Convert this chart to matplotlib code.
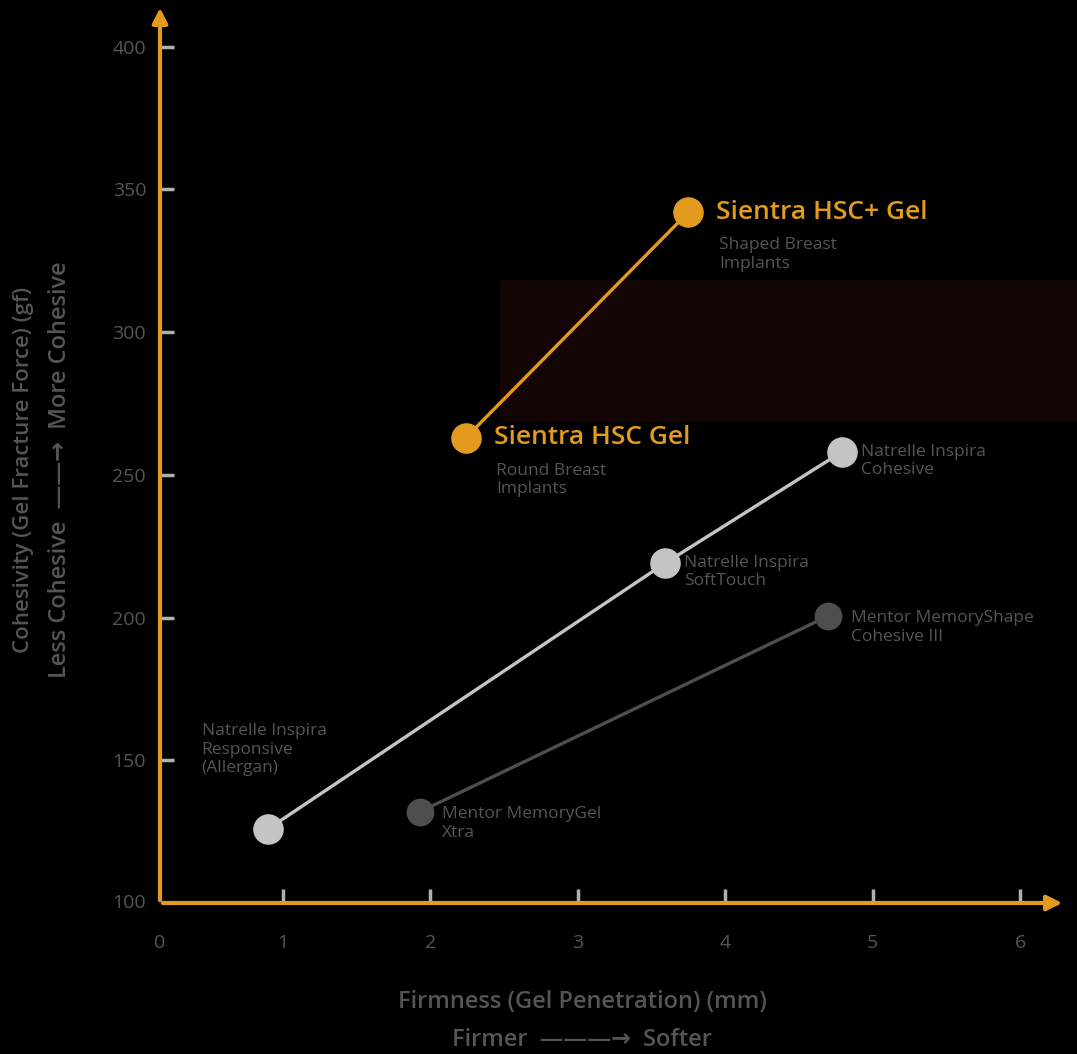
import matplotlib
matplotlib.use("Agg")
import matplotlib.pyplot as plt
from matplotlib.patches import Rectangle

plt.rcParams['font.family'] = ['Open Sans', 'DejaVu Sans']

# data
x_ticks = [1, 2, 3, 4, 5, 6]
y_ticks = [100, 150, 200, 250, 300, 350, 400]

sientra_names = ['Sientra HSC Gel', 'Sientra HSC+ Gel']
sientra_notes = ['Round Breast\nImplants', 'Shaped Breast\nImplants']
sientra_x = [2.24, 3.75]
sientra_y = [263, 342]

light_names = ['Natrelle Inspira\nResponsive\n(Allergan)', 'Natrelle Inspira\nSoftTouch', 'Natrelle Inspira\nCohesive']
light_x = [0.90, 3.59, 4.79]
light_y = [126, 219, 258]

dark_names = ['Mentor MemoryGel\nXtra', 'Mentor MemoryShape\nCohesive III']
dark_x = [1.93, 4.70]
dark_y = [132, 200.6]

orange = '#E39B1F'
light = '#C4C4C4'
dark = '#4E4E4E'
txt = '#555555'
bg = 'black'

fig = plt.figure(figsize=(10.77, 10.54), dpi=100, facecolor=bg)

ax = fig.add_axes([160 / 1077, 151 / 1054, 905 / 1077, 898 / 1054])
ax.set_facecolor('none')
ax.set_xlim(0.165, 6.305)
ax.set_ylim(100, 414.6)

# dark reddish panel behind the upper right of the chart
ax.add_patch(Rectangle((500 / 1077, 1 - 422 / 1054), 577 / 1077, 142 / 1054,
                       transform=fig.transFigure, facecolor='#140505', edgecolor='none',
                       zorder=0, clip_on=False))

for s in ax.spines.values():
    s.set_visible(False)

# axes with arrowheads
ax.annotate('', xy=(1.0, 0), xytext=(0, 0), xycoords='axes fraction',
            arrowprops=dict(arrowstyle='-|>,head_length=0.9,head_width=0.45', color=orange, lw=3))
ax.annotate('', xy=(0, 1.0), xytext=(0, 0), xycoords='axes fraction',
            arrowprops=dict(arrowstyle='-|>,head_length=0.9,head_width=0.45', color=orange, lw=3))

ax.set_xticks(x_ticks)
ax.set_yticks(y_ticks[1:])
ax.tick_params(axis='both', direction='in', length=10, width=2.5, color='#B0B0B0',
               labelcolor=txt, labelsize=14)
ax.tick_params(axis='x', pad=22)
ax.tick_params(axis='y', pad=10)
ax.annotate('0', (0, 0), xycoords='axes fraction', xytext=(0, -22), textcoords='offset points',
            ha='center', va='top', color=txt, fontsize=14)
ax.annotate(str(y_ticks[0]), (0, 0), xycoords='axes fraction', xytext=(-10, 0), textcoords='offset points',
            ha='right', va='center', color=txt, fontsize=14)

# series
ax.plot(light_x, light_y, color=light, lw=2.4, marker='o', ms=21, zorder=3)
ax.plot(dark_x, dark_y, color=dark, lw=2.4, marker='o', ms=19, zorder=3)
ax.plot(sientra_x, sientra_y, color=orange, lw=2.4, marker='o', ms=21, zorder=4)

# point labels
for name, note, x, y in zip(sientra_names, sientra_notes, sientra_x, sientra_y):
    ax.annotate(name, (x, y), xytext=(20, 0), textcoords='offset points', ha='left', va='center',
                color=orange, fontsize=19, fontweight='semibold')
    ax.annotate(note, (x, y), xytext=(22, -18), textcoords='offset points', ha='left', va='top',
                color=txt, fontsize=12.5, linespacing=1.2)

ax.annotate(light_names[0], (light_x[0], light_y[0]), xytext=(-48, 38), textcoords='offset points',
            ha='left', va='bottom', color=txt, fontsize=12.5, linespacing=1.2)
for name, x, y in zip(light_names[1:], light_x[1:], light_y[1:]):
    ax.annotate(name, (x, y), xytext=(14, 6), textcoords='offset points', ha='left', va='top',
                color=txt, fontsize=12.5, linespacing=1.2)
for name, x, y in zip(dark_names, dark_x, dark_y):
    ax.annotate(name, (x, y), xytext=(16, 4), textcoords='offset points', ha='left', va='top',
                color=txt, fontsize=12.5, linespacing=1.2)

# axis titles
fig.text(582 / 1077, 1 - 1002 / 1054, 'Firmness (Gel Penetration) (mm)', ha='center', va='center',
         color=txt, fontsize=17, fontweight='semibold')
fig.text(582 / 1077, 1 - 1040 / 1054, 'Firmer  \u2014\u2014\u2014\u2192  Softer', ha='center', va='center',
         color=txt, fontsize=17, fontweight='semibold')
fig.text(24 / 1077, 1 - 470 / 1054, 'Cohesivity (Gel Fracture Force) (gf)', ha='center', va='center',
         rotation=90, color=txt, fontsize=16, fontweight='semibold')
fig.text(60 / 1077, 1 - 470 / 1054, 'Less Cohesive  \u2014\u2014\u2192  More Cohesive', ha='center', va='center',
         rotation=90, color=txt, fontsize=17, fontweight='semibold')

fig.savefig('out.png', dpi=100, facecolor=bg)
